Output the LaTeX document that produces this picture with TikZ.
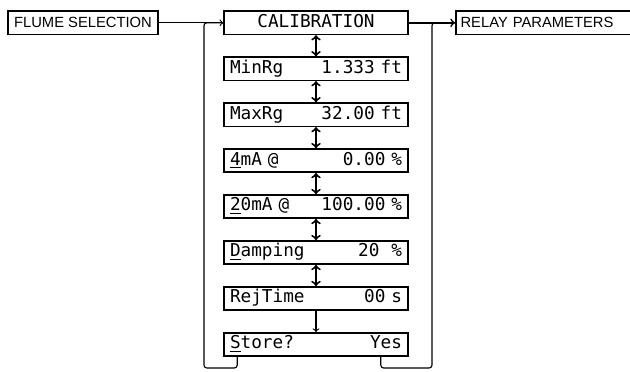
\documentclass[tikz,border=0pt]{standalone}
\usepackage{fontspec}
\setmainfont{Liberation Sans}
\newfontfamily\lcdfont{DejaVu Sans Mono}
\usetikzlibrary{positioning}

\begin{document}
\begin{tikzpicture}[-,auto,node distance=0.53cm,thick,
  menu node/.style={draw,line width=1.1pt,minimum height=0.58cm,inner ysep=0pt,inner xsep=0.12cm,font=\fontsize{10.5}{12}\selectfont},
  lcd node/.style={draw,line width=1.1pt,text width=4.3cm,inner xsep=0.15cm,inner ysep=0pt,minimum height=0.58cm,text height=0.3cm,text depth=0.08cm,font=\lcdfont\fontsize{12.6}{14}\selectfont}]
\tikzstyle{scroll arrow} = [<->,line width=1.4pt]

\useasboundingbox (0,0) rectangle (15.75,9.3);

\coordinate (loopleft) at (5.1,0.1);
\coordinate (loopright) at (10.8,0.1);

% Outer menus
\node[menu node,minimum width=3.75cm] (flume) at (2.075,8.73) {FLUME SELECTION};
\node[menu node,text width=4.4cm,anchor=west] (relay) at (11.375,8.73) {RELAY PARAMETERS};

% Calibration entries
\node[lcd node,align=center] (calib) at (7.9,8.73) {CALIBRATION};
\node[lcd node,below=of calib] (minrg) {MinRg\hfill 1.333 ft};
\node[lcd node,below=of minrg] (maxrg) {MaxRg\hfill 32.00 ft};
\node[lcd node,below=of maxrg] (fourma) {\underline{4}mA @\hfill 0.00 \%};
\node[lcd node,below=of fourma] (twentyma) {\underline{2}0mA @\hfill 100.00 \%};
\node[lcd node,below=of twentyma] (damping) {\underline{D}amping\hfill 20\ \ \%};
\node[lcd node,below=of damping] (rejtime) {RejTime\hfill 00 s};
\node[lcd node,below=of rejtime] (store) {\underline{S}tore?\hfill Yes};

% Entry and exit
\draw[->] (flume) -- (calib);
\draw[->,line width=1.2pt] (calib) -- (relay);

% Scroll arrows
\foreach \a/\b in {calib/minrg,minrg/maxrg,maxrg/fourma,fourma/twentyma,twentyma/damping,damping/rejtime}
  \draw[scroll arrow] (\a) -- (\b);
\draw[->] (rejtime) -- (store);

% Return loops
\draw[rounded corners=2pt] ([xshift=0.35cm]store.south west) |- (loopleft) |- (calib.west);
\draw[rounded corners=2pt] ([xshift=-0.7cm]store.south east) |- (loopright) |- (relay.west);

\end{tikzpicture}
\end{document}
